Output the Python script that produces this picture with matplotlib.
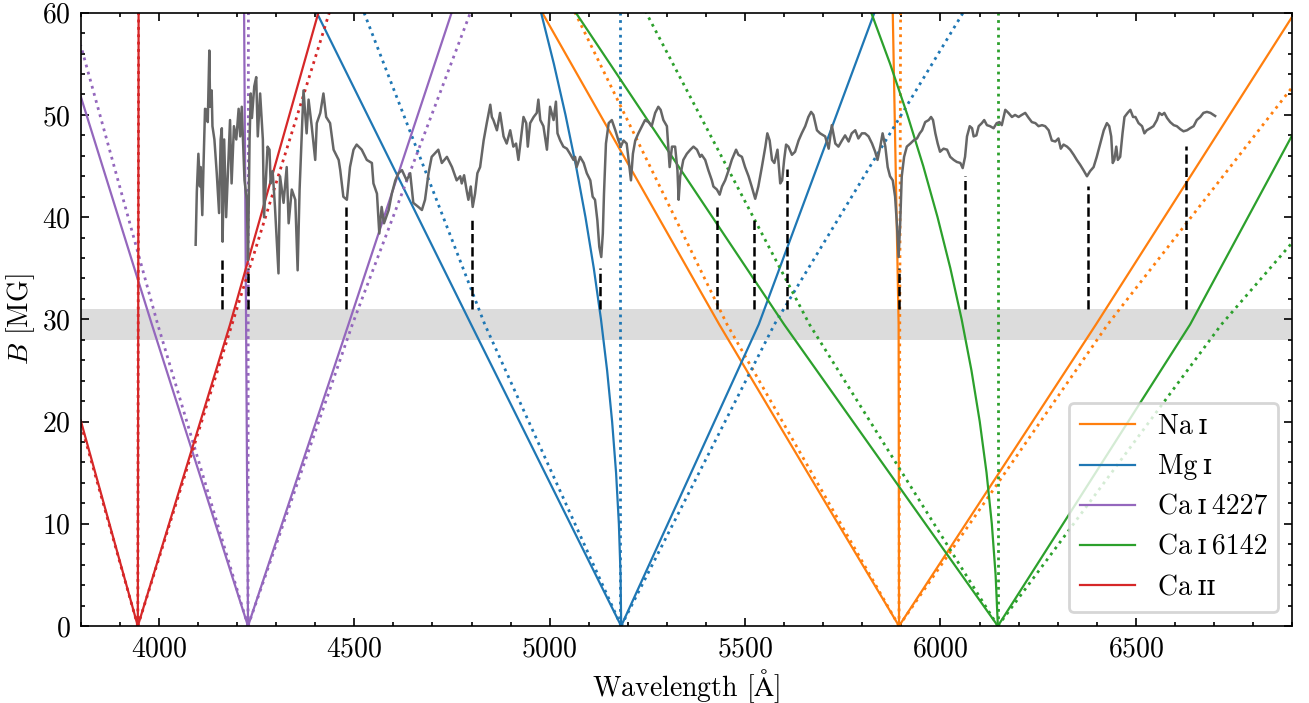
import matplotlib
matplotlib.use("Agg")
import matplotlib.pyplot as plt

plt.rcParams['font.family'] = ['cmr10', 'DejaVu Serif', 'DejaVu Sans']
plt.rcParams['mathtext.fontset'] = 'cm'
plt.rcParams['axes.formatter.use_mathtext'] = True
plt.rcParams['axes.unicode_minus'] = False
plt.rcParams['font.size'] = 10

# --- Zeeman components, (wavelength [A], B [MG]) ---
# each species: solid (model A) and dotted (model B) components
na_solid = [
    [(5894, 0), (5434, 29.5), (4981, 60)],
    [(5894, 0), (5893, 29.5), (5878, 60)],
    [(5894, 0), (6398, 29.5), (6900, 59.6)],
]
na_dotted = [
    [(5894, 0), (5454, 29.5), (5065, 60)],
    [(5894, 0), (5898, 60)],
    [(5894, 0), (6428, 29.5), (6900, 52.7)],
]
mg_solid = [
    [(5183, 0), (4799, 29.5), (4404, 60)],
    [(5183, 0), (5181.4, 5), (5177.1, 10), (5169.9, 15), (5159.8, 20), (5147, 25),
     (5131.3, 30), (5112.9, 35), (5091.6, 40), (5067.4, 45), (5040.5, 50),
     (5010.7, 55), (4978, 60)],
    [(5183, 0), (5535, 29.5), (5831, 60)],
]
mg_dotted = [
    [(5183, 0), (4834, 29.5), (4525, 60)],
    [(5181, 0), (5181, 60)],
    [(5183, 0), (5575, 29.5), (6058, 60)],
]
ca4227_solid = [
    [(4228, 0), (3982, 29.5), (3800, 51.8)],
    [(4228, 0), (4218, 60)],
    [(4228, 0), (4485, 29.5), (4749, 60)],
]
ca4227_dotted = [
    [(4228, 0), (3997, 29.5), (3800, 56.8)],
    [(4228, 0), (4229, 60)],
    [(4228, 0), (4495, 29.5), (4797, 60)],
]
ca6142_solid = [
    [(6147, 0), (5600, 29.5), (5067, 60)],
    [(6147, 0), (6141.2, 5), (6131.5, 10), (6118, 15), (6100.6, 20), (6079.4, 25),
     (6054.3, 30), (6025.4, 35), (5992.6, 40), (5956, 45), (5915.5, 50),
     (5871.2, 55), (5823, 60)],
    [(6147, 0), (6639, 29.5), (6900, 48.0)],
]
ca6142_dotted = [
    [(6147, 0), (5665, 29.5), (5247, 60)],
    [(6147, 0), (6147, 60)],
    [(6147, 0), (6719, 29.5), (6900, 37.5)],
]
caii_solid = [
    [(3946, 0), (3800, 20.1)],
    [(3946, 0), (3948, 60)],
    [(3946, 0), (4182, 29.5), (4408, 60)],
]
caii_dotted = [
    [(3946, 0), (3800, 19.8)],
    [(3946, 0), (3948, 60)],
    [(3946, 0), (4436, 60)],
]

species = ['Na\u2009ɪ', 'Mg\u2009ɪ', 'Ca\u2009ɪ\u20094227', 'Ca\u2009ɪ\u20096142', 'Ca\u2009ɪɪ']
colors = ['#ff7f0e', '#1f77b4', '#9467bd', '#2ca02c', '#d62728']
solids = [na_solid, mg_solid, ca4227_solid, ca6142_solid, caii_solid]
dotteds = [na_dotted, mg_dotted, ca4227_dotted, ca6142_dotted, caii_dotted]

# --- observed spectrum, scaled to the B axis ---
spec_wl = [
    4094, 4097, 4101, 4105, 4107, 4111, 4114, 4118, 4122, 4125, 4129, 4131,
    4135, 4137, 4142, 4148, 4154, 4158, 4161, 4163, 4167, 4172, 4182, 4186,
    4192, 4198, 4204, 4208, 4212, 4219, 4225, 4228, 4232, 4235, 4238, 4244,
    4249, 4253, 4259, 4266, 4269, 4278, 4283, 4286, 4291, 4297, 4306, 4310,
    4319, 4327, 4332, 4340, 4349, 4355, 4360, 4370, 4378, 4383, 4391, 4400,
    4404, 4413, 4421, 4428, 4438, 4447, 4460, 4464, 4472, 4481, 4489, 4498,
    4506, 4519, 4532, 4545, 4549, 4558, 4564, 4570, 4576, 4588, 4596, 4605,
    4613, 4622, 4634, 4643, 4651, 4664, 4673, 4681, 4690, 4698, 4715, 4724,
    4737, 4750, 4762, 4771, 4775, 4781, 4788, 4792, 4798, 4803, 4809, 4815,
    4822, 4831, 4839, 4848, 4852, 4856, 4865, 4873, 4882, 4890, 4899, 4907,
    4914, 4920, 4924, 4933, 4940, 4944, 4950, 4959, 4967, 4971, 4976, 4984,
    4993, 5001, 5010, 5016, 5020, 5027, 5035, 5044, 5052, 5061, 5065, 5069,
    5078, 5087, 5095, 5104, 5110, 5116, 5122, 5127, 5132, 5136, 5139, 5144,
    5151, 5159, 5168, 5176, 5182, 5189, 5197, 5203, 5208, 5213, 5219, 5227,
    5236, 5244, 5253, 5261, 5270, 5278, 5284, 5291, 5300, 5307, 5313, 5321,
    5327, 5330, 5334, 5342, 5351, 5360, 5368, 5377, 5385, 5389, 5398, 5406,
    5415, 5419, 5428, 5435, 5441, 5449, 5458, 5466, 5477, 5483, 5492, 5500,
    5509, 5517, 5526, 5534, 5543, 5552, 5557, 5563, 5569, 5575, 5583, 5590,
    5595, 5600, 5605, 5611, 5620, 5628, 5637, 5645, 5654, 5662, 5669, 5675,
    5684, 5692, 5705, 5714, 5722, 5731, 5739, 5748, 5756, 5765, 5773, 5782,
    5790, 5799, 5807, 5816, 5825, 5833, 5839, 5846, 5852, 5859, 5865, 5871,
    5878, 5884, 5889, 5893, 5897, 5901, 5907, 5914, 5923, 5931, 5940, 5947,
    5953, 5961, 5970, 5976, 5981, 5987, 5993, 5999, 6008, 6017, 6025, 6034,
    6042, 6051, 6057, 6063, 6068, 6075, 6081, 6085, 6092, 6098, 6106, 6112,
    6119, 6127, 6136, 6144, 6151, 6157, 6166, 6174, 6183, 6191, 6200, 6208,
    6217, 6226, 6234, 6243, 6251, 6260, 6268, 6277, 6285, 6294, 6302, 6308,
    6315, 6324, 6332, 6341, 6349, 6358, 6366, 6375, 6383, 6392, 6400, 6409,
    6418, 6426, 6432, 6437, 6441, 6445, 6450, 6454, 6460, 6466, 6471, 6479,
    6486, 6493, 6499, 6507, 6516, 6522, 6528, 6537, 6545, 6554, 6560, 6567,
    6573, 6580, 6588, 6597, 6605, 6614, 6622, 6631, 6639, 6648, 6656, 6665,
    6673, 6682, 6691, 6699, 6703,
]
spec_b = [
    37.3, 42.5, 46.2, 43.0, 44.9, 40.2, 44.9, 50.6, 50.5, 49.3, 56.3, 50.8,
    52.4, 48.9, 47.6, 44.3, 40.4, 47.6, 48.7, 37.6, 47.6, 40.0, 49.5, 43.3,
    48.9, 47.6, 50.6, 47.9, 50.8, 43.6, 41.7, 35.8, 47.6, 52.1, 49.7, 52.8,
    53.7, 47.9, 52.1, 47.6, 40.0, 46.9, 46.6, 43.3, 44.5, 41.0, 34.5, 44.0,
    41.4, 44.9, 39.4, 42.7, 41.7, 34.8, 42.7, 52.4, 48.2, 51.5, 48.9, 45.6,
    49.2, 50.2, 52.1, 49.8, 49.2, 46.6, 45.6, 44.6, 42.0, 41.7, 44.9, 46.6,
    47.1, 46.6, 45.6, 45.3, 43.3, 42.3, 38.4, 41.0, 39.4, 40.7, 42.3, 43.6,
    44.3, 44.6, 43.6, 44.3, 41.4, 41.0, 40.7, 41.7, 44.3, 45.9, 46.6, 45.3,
    45.9, 44.9, 43.6, 44.0, 43.3, 44.1, 42.5, 41.7, 43.0, 41.0, 42.3, 44.3,
    44.9, 47.5, 49.2, 51.0, 49.8, 49.5, 48.5, 50.2, 47.9, 47.2, 48.5, 46.9,
    47.2, 45.6, 46.9, 49.8, 49.2, 46.9, 49.2, 49.8, 50.2, 51.5, 49.5, 48.9,
    46.6, 50.8, 49.5, 51.3, 48.2, 47.5, 46.9, 46.7, 46.2, 45.6, 45.9, 44.9,
    45.9, 45.3, 44.3, 43.6, 42.0, 41.7, 39.7, 37.1, 36.1, 38.4, 42.3, 47.2,
    49.2, 49.5, 48.5, 47.5, 46.9, 47.5, 47.2, 45.3, 43.6, 46.2, 47.5, 48.2,
    48.9, 49.5, 49.3, 48.9, 50.2, 50.8, 50.5, 49.5, 48.9, 44.9, 46.9, 46.9,
    44.6, 41.7, 44.0, 45.6, 46.2, 46.6, 46.9, 46.6, 45.9, 46.1, 45.6, 44.6,
    43.6, 43.0, 42.7, 42.2, 43.0, 43.6, 44.6, 45.6, 46.6, 46.1, 45.9, 44.9,
    44.0, 43.0, 41.8, 43.0, 44.9, 46.9, 48.2, 47.5, 45.6, 45.3, 46.6, 43.3,
    43.6, 45.6, 47.1, 46.9, 46.1, 46.4, 47.5, 48.2, 48.9, 49.8, 50.3, 50.0,
    48.5, 48.2, 47.9, 46.7, 49.0, 47.2, 46.9, 47.5, 48.0, 47.4, 48.2, 48.5,
    47.7, 48.2, 48.2, 47.9, 47.2, 46.4, 45.6, 46.9, 48.2, 46.9, 44.9, 44.0,
    43.6, 42.0, 39.1, 36.1, 39.4, 44.0, 45.9, 46.9, 47.2, 47.5, 47.7, 48.2,
    48.5, 49.3, 49.5, 49.8, 49.5, 48.2, 47.2, 46.4, 46.7, 46.6, 45.9, 45.6,
    45.4, 45.3, 44.8, 45.9, 47.9, 48.9, 48.7, 47.9, 48.0, 48.9, 49.2, 49.5,
    49.0, 48.9, 48.7, 49.2, 49.3, 49.0, 50.5, 50.2, 49.8, 50.0, 49.8, 50.0,
    50.2, 49.7, 49.3, 49.2, 48.9, 49.0, 48.9, 48.5, 47.5, 47.4, 47.7, 46.7,
    47.1, 46.9, 46.6, 46.1, 45.6, 45.1, 44.6, 44.0, 44.5, 44.9, 45.9, 47.2,
    48.5, 49.2, 48.9, 47.9, 45.3, 45.6, 46.9, 45.6, 45.9, 48.2, 49.8, 50.2,
    50.5, 49.8, 49.8, 49.2, 48.9, 48.2, 48.5, 48.7, 48.9, 49.5, 50.2, 50.0,
    50.2, 49.7, 49.3, 49.0, 48.9, 48.6, 48.4, 48.5, 48.7, 48.9, 49.5, 49.8,
    50.2, 50.3, 50.2, 50.0, 49.9,
]

# identified absorption features
feat_wl = [4162, 4227, 4478, 4802, 5130, 5429, 5522, 5607, 5893, 6064, 6378, 6629]
feat_top = [36.0, 35.0, 41.0, 39.8, 35.0, 41.0, 39.8, 44.7, 35.0, 44.0, 43.0, 47.0]
feat_bottom = 31.0
band = (28.0, 31.0)

fig = plt.figure(figsize=(6.545, 3.515), dpi=200)
ax = fig.add_axes([0.0617, 0.1095, 0.9254, 0.8724])

ax.axhspan(band[0], band[1], color='#dcdcdc', lw=0, zorder=0)

handles = []
for name, col, sol, dot in zip(species, colors, solids, dotteds):
    for comp in dot:
        wl, b = zip(*comp)
        ax.plot(wl, b, color=col, ls=':', lw=1.0, zorder=2)
    for i, comp in enumerate(sol):
        wl, b = zip(*comp)
        ln, = ax.plot(wl, b, color=col, ls='-', lw=0.8, zorder=2)
        if i == 0:
            ln.set_label(name)
            handles.append(ln)

ax.plot(spec_wl, spec_b, color='0.4', lw=0.9, zorder=3)
ax.vlines(feat_wl, feat_bottom, feat_top, colors='k', linestyles='--', lw=0.9, zorder=4)

ax.set_xlim(3800, 6900)
ax.set_ylim(0, 60)
ax.set_xticks([4000, 4500, 5000, 5500, 6000, 6500])
ax.set_xticks(range(3800, 6901, 100), minor=True)
ax.set_yticks(range(0, 61, 10))
ax.set_yticks(range(0, 61, 2), minor=True)
ax.tick_params(which='both', direction='in', top=True, right=True, width=0.6)
ax.tick_params(which='major', length=3)
ax.tick_params(which='minor', length=1.5)
for sp in ax.spines.values():
    sp.set_linewidth(0.6)

ax.set_xlabel(r'Wavelength [$\mathrm{\AA}$]', labelpad=2)
ax.set_ylabel(r'$B$ [MG]', labelpad=2)

ax.legend(handles=handles, loc='lower right', fancybox=True, framealpha=0.8)

fig.savefig('out.png', dpi=200)
